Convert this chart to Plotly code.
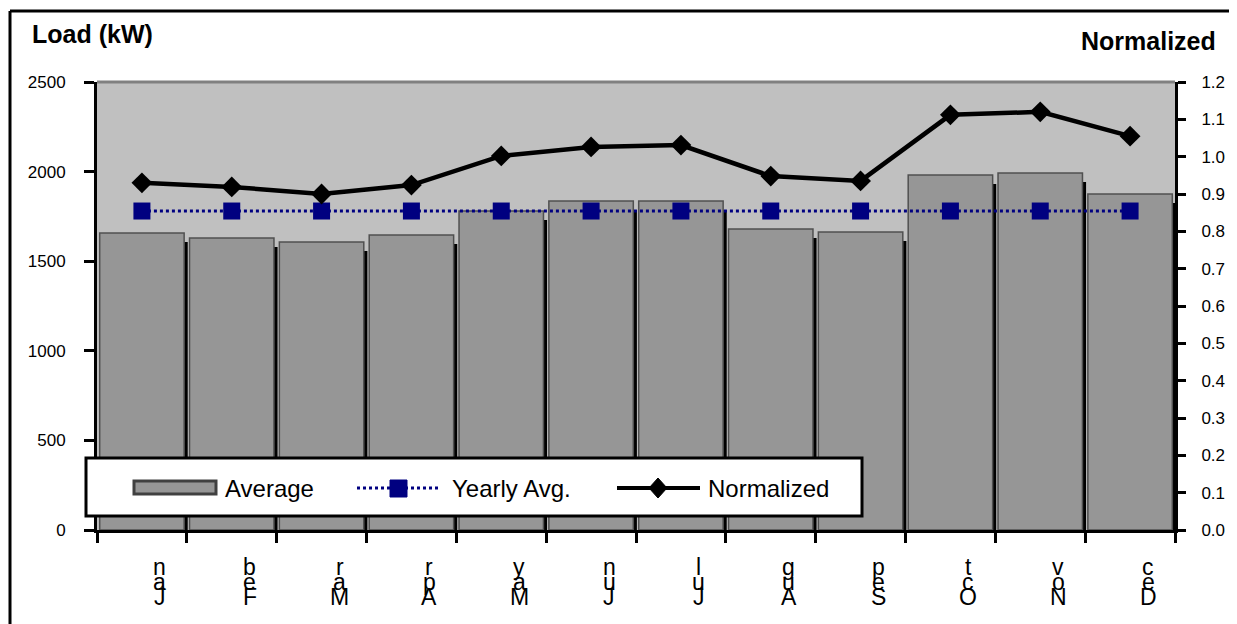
import plotly.graph_objects as go

months = ["Jan", "Feb", "Mar", "Apr", "May", "Jun", "Jul", "Aug", "Sep", "Oct", "Nov", "Dec"]
average_kw = [1657, 1629, 1607, 1646, 1780, 1836, 1836, 1680, 1663, 1981, 1992, 1875]
yearly_avg_kw = [1780] * 12
normalized = [0.930, 0.919, 0.900, 0.924, 1.002, 1.026, 1.031, 0.948, 0.935, 1.112, 1.120, 1.055]

left_ticks = [0, 500, 1000, 1500, 2000, 2500]
right_ticks = [0.0, 0.1, 0.2, 0.3, 0.4, 0.5, 0.6, 0.7, 0.8, 0.9, 1.0, 1.1, 1.2]
legend_names = ["Average", "Yearly Avg.", "Normalized"]

FONT = "Arial, Liberation Sans, sans-serif"
W, H = 1237, 624
OFF = 8  # page body margin offsets the figure in the browser
# target plot area in screen pixels: x 97..1175, y 82..530
ML, MT = 97 - OFF, 82 - OFF
MR = W - (1175 - OFF)
MB = H - (530 - OFF)
PW, PH = W - ML - MR, H - MT - MB


def px(x):  # screen pixel -> paper x
    return (x - OFF - ML) / PW


def py(y):  # screen pixel -> paper y
    return (H - MB - (y - OFF)) / PH


fig = go.Figure()
# drop shadow of bars (Excel 3D-ish look)
fig.add_trace(go.Bar(
    x=months, y=[v - 50 for v in average_kw], width=0.94, offset=-0.43,
    marker=dict(color="black", line=dict(width=0)), showlegend=False, hoverinfo="skip",
))
fig.add_trace(go.Bar(
    x=months, y=average_kw, name=legend_names[0], width=0.94, offset=-0.47,
    marker=dict(color="#969696", line=dict(color="#505050", width=1.5)),
))
fig.add_trace(go.Scatter(
    x=months, y=yearly_avg_kw, name=legend_names[1], mode="lines+markers",
    line=dict(color="#000080", width=3, dash="dot"),
    marker=dict(symbol="square", size=17, color="#000080"),
))
fig.add_trace(go.Scatter(
    x=months, y=normalized, name=legend_names[2], mode="lines+markers",
    line=dict(color="black", width=4.5),
    marker=dict(symbol="diamond", size=16, color="black"),
    yaxis="y2",
))

annotations = [
    dict(text="<b>Load (kW)</b>", xref="paper", yref="paper", x=px(30), y=py(34),
         xanchor="left", yanchor="middle", showarrow=False, font=dict(size=25, family=FONT)),
    dict(text="<b>Normalized</b>", xref="paper", yref="paper", x=px(1218), y=py(41),
         xanchor="right", yanchor="middle", showarrow=False, font=dict(size=25, family=FONT)),
]

# month labels: characters stacked vertically in reverse order, as in the original
for m in months:
    for k, ch in enumerate(m):
        annotations.append(dict(
            text=ch, xref="x", yref="paper", x=m, y=0, xshift=18, yshift=-67 + 15 * k,
            xanchor="center", yanchor="middle", showarrow=False,
            font=dict(size=23, family=FONT, color="black"),
        ))

# manual legend (box, symbols, labels)
legend_fs = 24
annotations += [
    dict(text=legend_names[0], xref="paper", yref="paper", x=px(223), y=py(488),
         xanchor="left", yanchor="middle", showarrow=False, font=dict(size=legend_fs, family=FONT)),
    dict(text=legend_names[1], xref="paper", yref="paper", x=px(450), y=py(488),
         xanchor="left", yanchor="middle", showarrow=False, font=dict(size=legend_fs, family=FONT)),
    dict(text=legend_names[2], xref="paper", yref="paper", x=px(706), y=py(488),
         xanchor="left", yanchor="middle", showarrow=False, font=dict(size=legend_fs, family=FONT)),
]

dx, dy = 9 / PW, 10 / PH
shapes = [
    # outer frame: top and left edges (right/bottom fall outside the picture)
    dict(type="line", xref="paper", yref="paper", x0=px(10), x1=px(1300), y0=py(11), y1=py(11),
         line=dict(color="black", width=3), layer="below"),
    dict(type="line", xref="paper", yref="paper", x0=px(10), x1=px(10), y0=py(11), y1=py(700),
         line=dict(color="black", width=3), layer="below"),
    # plot top edge
    dict(type="line", xref="paper", yref="paper", x0=0, x1=1, y0=1, y1=1,
         line=dict(color="#808080", width=3)),
    # legend box
    dict(type="rect", xref="paper", yref="paper", x0=px(86), x1=px(862), y0=py(516), y1=py(458),
         line=dict(color="black", width=3), fillcolor="white", layer="above"),
    # Average symbol
    dict(type="rect", xref="paper", yref="paper", x0=px(134), x1=px(216), y0=py(494), y1=py(481),
         line=dict(color="#404040", width=3), fillcolor="#969696", layer="above"),
    # Yearly avg symbol
    dict(type="line", xref="paper", yref="paper", x0=px(357), x1=px(440), y0=py(488), y1=py(488),
         line=dict(color="#000080", width=3, dash="dot"), layer="above"),
    dict(type="rect", xref="paper", yref="paper", x0=px(390), x1=px(407), y0=py(497), y1=py(480),
         line=dict(color="#000080", width=1), fillcolor="#000080", layer="above"),
    # Normalized symbol
    dict(type="line", xref="paper", yref="paper", x0=px(617), x1=px(700), y0=py(488), y1=py(488),
         line=dict(color="black", width=4), layer="above"),
    dict(type="path", xref="paper", yref="paper",
         path=f"M {px(658)-dx},{py(488)} L {px(658)},{py(488)+dy} L {px(658)+dx},{py(488)} "
              f"L {px(658)},{py(488)-dy} Z",
         line=dict(color="black", width=1), fillcolor="black", layer="above"),
]

fig.update_layout(
    width=W, height=H,
    margin=dict(l=ML, r=MR, t=MT, b=MB, autoexpand=False),
    paper_bgcolor="white", plot_bgcolor="#C0C0C0",
    font=dict(family=FONT, size=17, color="black"),
    barmode="overlay",
    showlegend=False,
    xaxis=dict(
        type="category", tickmode="array", tickvals=months, ticktext=[""] * len(months),
        tickson="boundaries", ticks="outside", ticklen=10, tickwidth=3, tickcolor="black",
        showline=True, linecolor="black", linewidth=3, showgrid=False, automargin=False,
        range=[-0.5, 11.5],
    ),
    yaxis=dict(
        range=[0, 2500], tickvals=left_ticks, ticks="outside", ticklen=10, tickwidth=3,
        tickcolor="black", showline=True, linecolor="black", linewidth=3,
        showgrid=False, zeroline=False, tickfont=dict(size=17, family=FONT),
        ticklabelstandoff=15, automargin=False,
    ),
    yaxis2=dict(
        range=[0, 1.2], tickvals=right_ticks, tickformat=".1f", overlaying="y", side="right",
        ticks="outside", ticklen=8, tickwidth=3, tickcolor="black",
        showline=True, linecolor="black", linewidth=3, showgrid=False, zeroline=False,
        tickfont=dict(size=17, family=FONT), ticklabelstandoff=12, automargin=False,
    ),
    annotations=annotations,
    shapes=shapes,
)

fig.write_html("out.html")
